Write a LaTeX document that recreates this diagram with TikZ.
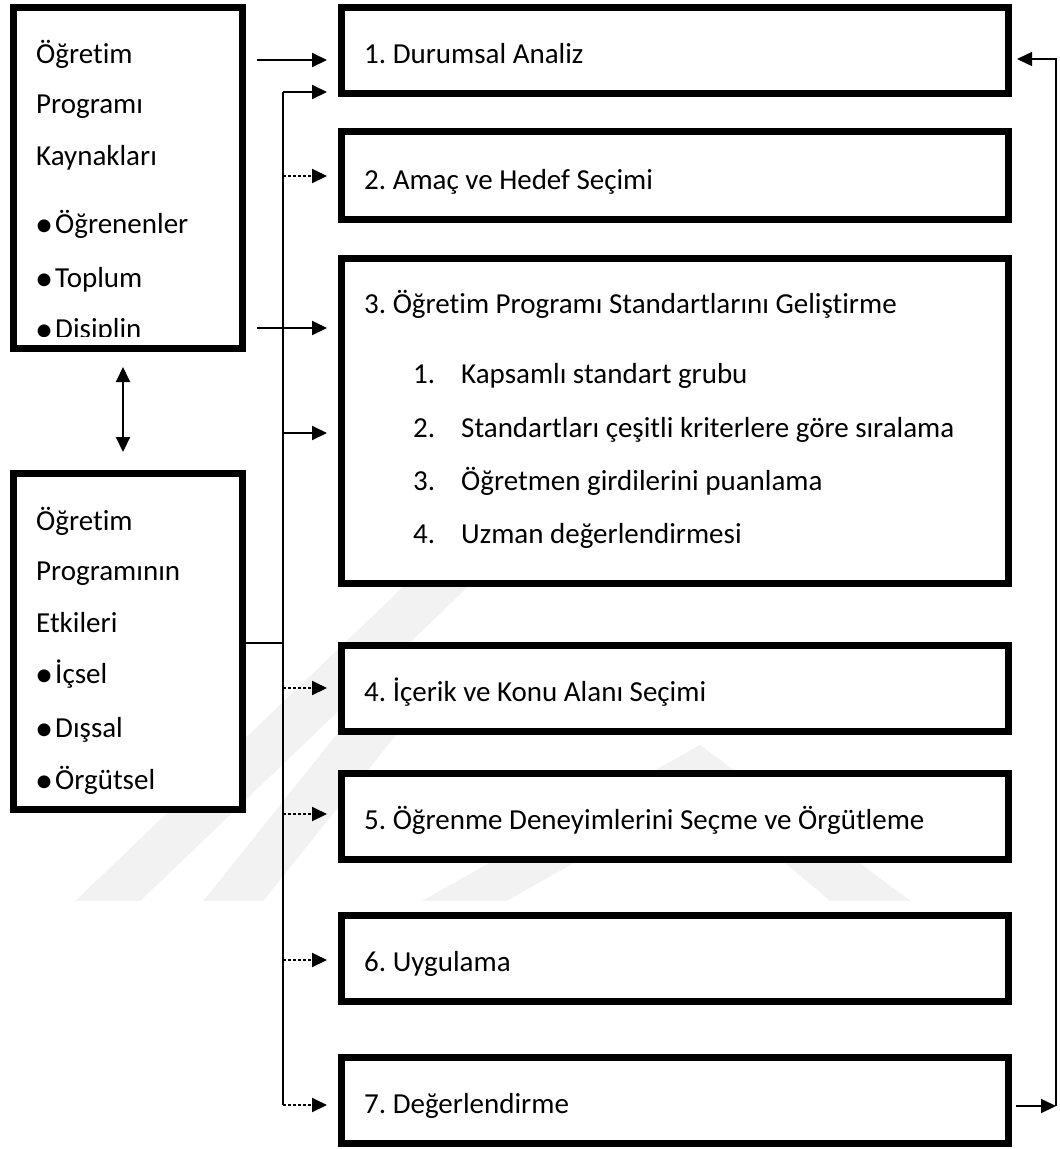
\documentclass[tikz,border=0pt]{standalone}
\usepackage{fontspec}
\setmainfont{Carlito}[Ligatures=CommonOff]
\usetikzlibrary{arrows.meta}
\frenchspacing

\tikzset{
  stepbox/.style={draw, fill=white, line width=7pt, inner sep=0pt,
    minimum width=667pt, minimum height=86pt},
  srcbox/.style={draw, fill=white, line width=7pt, inner sep=0pt,
    minimum width=229pt},
  lbl/.style={anchor=base west, inner sep=0pt, font=\fontsize{29}{35}\selectfont},
  flow/.style={line width=2pt, -{Triangle[length=15pt,width=14pt]}},
  dotflow/.style={flow, dash pattern=on 2.5pt off 2.5pt},
  spine/.style={line width=1.4pt},
  wmark/.style={fill=black!5, draw=none},
}
\newcommand{\bul}{\makebox[19pt][l]{\hspace{-1pt}\raisebox{-3pt}{\scalebox{1.25}{•}}}}

\begin{document}
\begin{tikzpicture}[x=1pt,y=-1pt]
\useasboundingbox (0,0) rectangle (1060,1149);

% watermark in the background
\begin{scope}
  \clip (0,585) rectangle (1060,900);
  \fill[wmark] (45,930) -- (110,930) -- (470,585) -- (405,585) -- cycle;
  \fill[wmark] (180,930) -- (240,930) -- (400,730) -- (340,730) -- cycle;
  \fill[wmark,even odd rule] (370,930) -- (700,745) -- (950,930) -- cycle
    (455,930) -- (700,792) -- (865,930) -- cycle;
\end{scope}

% === Left: sources and effects ===
\node[srcbox, minimum height=341pt] (kay) at (128,178) {};
\node[srcbox, minimum height=336pt] (etk) at (128,641.5) {};

\foreach \txt/\yy [count=\i] in {Öğretim/63, Programı/113, Kaynakları/165,
    \bul Öğrenenler/233, \bul Toplum/287}
  \node[lbl] (k\i) at (36,\yy) {\txt};
\begin{scope}
  \clip (17,300) rectangle (239,336);
  \node[lbl] (k6) at (36,338) {\bul Disiplin};
\end{scope}

\foreach \txt/\yy [count=\i] in {Öğretim/530, Programının/580, Etkileri/632,
    \bul İçsel/683, \bul Dışsal/737, \bul Örgütsel/789}
  \node[lbl] (e\i) at (36,\yy) {\txt};

\draw[line width=2pt, {Triangle[length=15pt,width=14pt]}-{Triangle[length=15pt,width=14pt]},
  shorten <=15pt, shorten >=18pt] ([xshift=-5pt]kay.south) -- ([xshift=-5pt]etk.north);

% === Right: the seven steps ===
\node[stepbox] (s1) at (675,50.5) {};
\node[stepbox, minimum height=88pt] (s2) at (675,175.5) {};
\node[stepbox, minimum height=325pt] (s3) at (675,421) {};
\node[stepbox] (s4) at (675,688.5) {};
\node[stepbox] (s5) at (675,816.5) {};
\node[stepbox] (s6) at (675,958.5) {};
\node[stepbox] (s7) at (675,1100.5) {};

\node[lbl] (t1) at (364,63) {1. Durumsal Analiz};
\node[lbl] (t2) at (364,189) {2. Amaç ve Hedef Seçimi};
\node[lbl] (t3) at (364,313) {3. Öğretim Programı Standartlarını Geliştirme};
\foreach \txt/\yy [count=\i] in {Kapsamlı standart grubu/383,
    Standartları çeşitli kriterlere göre sıralama/437,
    Öğretmen girdilerini puanlama/490, Uzman değerlendirmesi/543} {
  \node[lbl] (n\i) at (413,\yy) {\i.};
  \node[lbl] (m\i) at (461,\yy) {\txt};
}
\node[lbl] (t4) at (364,701) {4. İçerik ve Konu Alanı Seçimi};
\node[lbl] (t5) at (364,829) {5. Öğrenme Deneyimlerini Seçme ve Örgütleme};
\node[lbl] (t6) at (364,971) {6. Uygulama};
\node[lbl] (t7) at (364,1113) {7. Değerlendirme};

% === Connectors ===
\coordinate (sp1) at (283,92);
\coordinate (sp7) at (283,1105);
\draw[spine] (sp1) -- (sp7);
\draw[spine] (etk.east |- 0,643) -- (sp1 |- 0,643);

\draw[flow, shorten <=11pt, shorten >=11pt] (kay.east |- 0,60) -- (s1.west |- 0,60);
\draw[flow, shorten <=11pt, shorten >=11pt] (kay.east |- 0,328) -- (s3.west |- 0,328);
\draw[flow, shorten >=11pt] (sp1) -- (sp1 -| s1.west);
\draw[flow, shorten >=11pt] (sp1 |- 0,433) -- (s3.west |- 0,433);
\foreach \s/\yy in {s2/176, s4/688, s5/814, s6/960, s7/1105}
  \draw[dotflow, shorten >=11pt] (sp1 |- 0,\yy) -- (\s.west |- 0,\yy);

% return loop
\coordinate (rb) at (1056,1106);
\coordinate (rt) at (1056,59);
\draw[flow, shorten <=4pt] (s7.east |- rb) -- (rb);
\draw[spine, -{Triangle[length=15pt,width=14pt]}, shorten >=5pt] (rb) -- (rt) -- (rt -| s1.east);

\end{tikzpicture}
\end{document}
